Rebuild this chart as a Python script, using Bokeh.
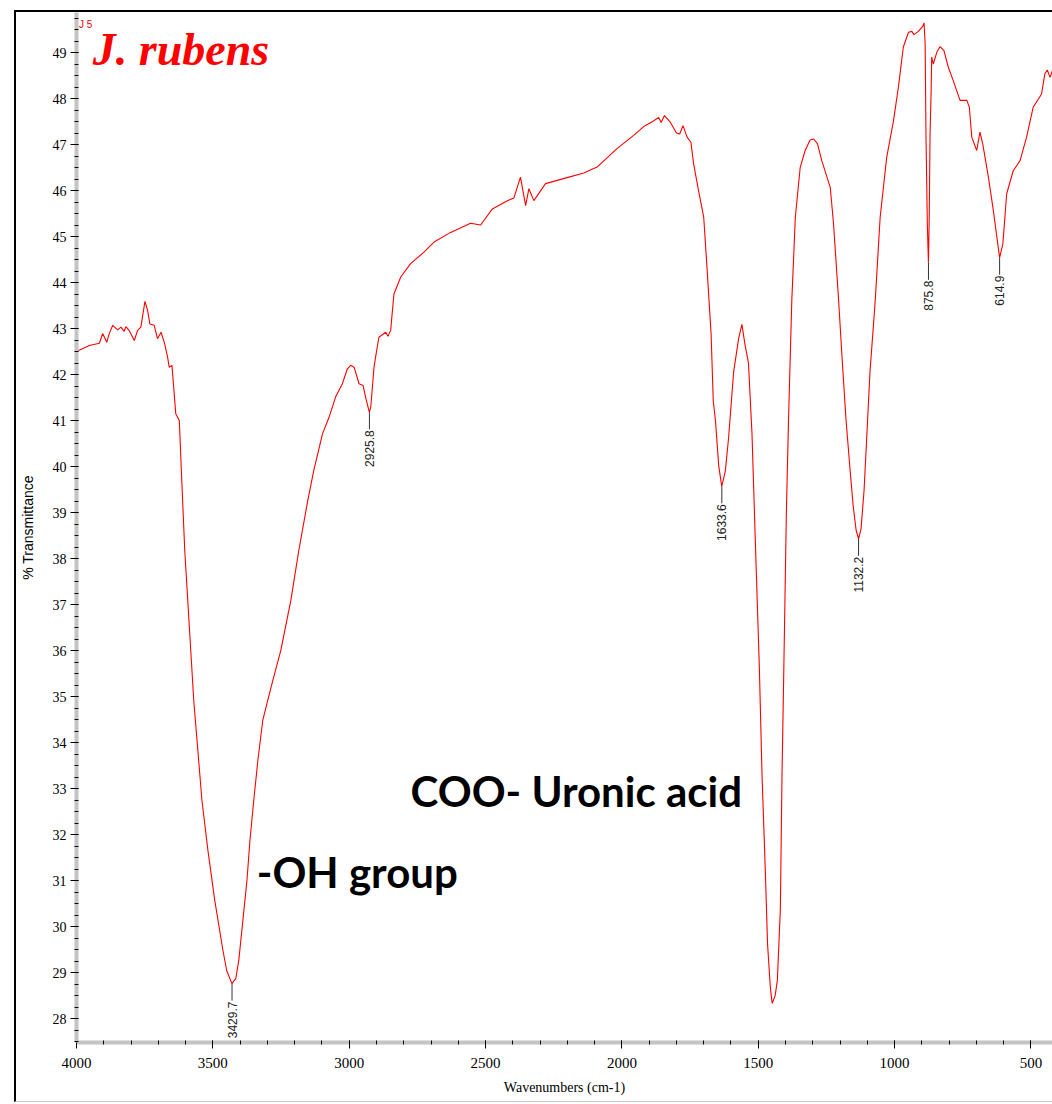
import math
from bokeh.plotting import figure
from bokeh.layouts import column
from bokeh.models import Range1d, SingleIntervalTicker, ColumnDataSource, Label
from bokeh.embed import file_html
from bokeh.resources import INLINE

# ---- data (wavenumber cm-1, % transmittance) ----
wavenumber = [4000, 3953, 3916, 3904, 3889, 3880, 3867, 3849, 3837, 3825, 3819, 3807,
              3788, 3776, 3764, 3749, 3739, 3731, 3715, 3703, 3690, 3678, 3666, 3660,
              3650, 3636, 3623, 3614, 3603, 3592, 3581, 3570, 3555, 3540, 3518, 3493,
              3463, 3449, 3430, 3416, 3405, 3390, 3375, 3364, 3350, 3335, 3317, 3299,
              3280, 3251, 3214, 3185, 3152, 3130, 3098, 3074, 3050, 3025, 3007, 2995,
              2982, 2964, 2949, 2940, 2926, 2921, 2909, 2903, 2891, 2866, 2858, 2848,
              2836, 2811, 2775, 2726, 2689, 2628, 2555, 2518, 2475, 2420, 2396, 2372,
              2353, 2341, 2323, 2280, 2201, 2140, 2091, 2018, 1957, 1920, 1884, 1865,
              1856, 1844, 1822, 1800, 1788, 1776, 1761, 1747, 1737, 1719, 1700, 1688,
              1673, 1665, 1657, 1645, 1634, 1621, 1609, 1590, 1572, 1560, 1548, 1536,
              1523, 1511, 1496, 1486, 1474, 1466, 1456, 1449, 1438, 1430, 1419, 1413,
              1407, 1397, 1389, 1377, 1364, 1346, 1328, 1310, 1297, 1283, 1267, 1248,
              1236, 1224, 1206, 1192, 1178, 1163, 1152, 1141, 1132, 1123, 1112, 1101,
              1090, 1079, 1071, 1053, 1029, 1004, 986, 968, 949, 937, 929, 913, 897,
              892, 888, 885, 880, 876, 873, 870, 866, 864, 858, 845, 833, 819, 803,
              785, 760, 735, 726, 717, 699, 687, 677, 656, 638, 615, 603, 589, 565,
              540, 516, 492, 461, 449, 440, 430, 421]
transmittance = [42.50, 42.63, 42.68, 42.89, 42.70, 42.89, 43.07, 42.97, 43.03, 42.94,
                 43.04, 42.96, 42.74, 42.96, 43.03, 43.59, 43.39, 43.10, 43.07, 42.78,
                 42.92, 42.70, 42.38, 42.16, 42.20, 41.15, 41.00, 39.70, 38.17, 37.09,
                 36.00, 34.91, 33.83, 32.74, 31.65, 30.57, 29.48, 29.04, 28.76, 28.87,
                 29.26, 30.13, 31.00, 31.87, 32.74, 33.61, 34.48, 34.91, 35.35, 36.00,
                 37.09, 38.17, 39.26, 39.91, 40.71, 41.07, 41.51, 41.80, 42.12, 42.20,
                 42.16, 41.80, 41.76, 41.51, 41.18, 41.29, 42.16, 42.39, 42.81, 42.92,
                 42.83, 42.96, 43.75, 44.12, 44.41, 44.66, 44.88, 45.09, 45.29, 45.25,
                 45.60, 45.78, 45.84, 46.29, 45.67, 46.04, 45.78, 46.15, 46.28, 46.38,
                 46.51, 46.91, 47.20, 47.39, 47.51, 47.59, 47.48, 47.63, 47.48, 47.25,
                 47.23, 47.41, 47.16, 47.05, 46.58, 46.00, 45.42, 44.33, 42.89, 41.43,
                 41.00, 40.02, 39.57, 39.89, 40.61, 42.07, 42.78, 43.09, 42.63, 42.26,
                 40.72, 38.43, 35.63, 33.26, 31.20, 29.63, 28.70, 28.33, 28.50, 28.83,
                 30.37, 33.26, 35.33, 38.96, 41.02, 43.61, 45.42, 46.51, 46.87, 47.10,
                 47.12, 47.02, 46.65, 46.29, 46.07, 45.28, 43.68, 42.30, 41.00, 39.91,
                 39.15, 38.61, 38.43, 38.65, 39.48, 40.78, 42.09, 42.96, 43.61, 45.42,
                 46.72, 47.52, 48.25, 49.12, 49.44, 49.46, 49.39, 49.46, 49.57, 49.64,
                 49.19, 47.23, 45.28, 44.43, 45.42, 47.23, 48.17, 48.90, 48.75, 49.01,
                 49.13, 49.04, 48.68, 48.39, 47.96, 47.96, 47.81, 47.16, 46.87, 47.27,
                 47.02, 46.29, 45.57, 44.54, 44.84, 45.93, 46.43, 46.65, 47.16, 47.81,
                 48.10, 48.54, 48.62, 48.46, 48.61]

peak_wn = [3429.7, 2925.8, 1633.6, 1132.2, 875.8, 614.9]
peak_T = [28.76, 41.18, 39.57, 38.43, 44.43, 44.54]
peak_text = ["3429.7", "2925.8", "1633.6", "1132.2", "875.8", "614.9"]

x_ticks_interval = 500
y_ticks_interval = 1

title_text = "J. rubens"
sample_tag = "J 5"
note_oh = "-OH group"
note_coo = "COO- Uronic acid"

# ---- figure ----
p = figure(width=1036, height=1089, output_backend="svg", toolbar_location=None,
           x_range=Range1d(4000, 421), y_range=Range1d(27.48, 49.87),
           min_border_left=59, min_border_right=0, min_border_top=0,
           min_border_bottom=59, background_fill_color="white",
           border_fill_color="white", outline_line_color=None)
p.grid.visible = False

tick_font = "Liberation Sans Narrow"
for ax in (p.xaxis[0], p.yaxis[0]):
    ax.axis_line_color = "#c4c4c4"
    ax.axis_line_width = 4
    ax.major_tick_line_color = "black"
    ax.minor_tick_line_color = "black"
    ax.major_tick_out = 6
    ax.major_tick_in = 2
    ax.minor_tick_out = 2
    ax.minor_tick_in = 2
    ax.major_label_text_font = tick_font
    ax.major_label_text_color = "black"
    ax.axis_label_text_font_style = "normal"
    ax.axis_label_text_color = "black"

p.xaxis.major_label_text_font_size = "15px"
p.yaxis.major_label_text_font_size = "14px"
p.xaxis.ticker = SingleIntervalTicker(interval=x_ticks_interval, num_minor_ticks=5)
p.yaxis.ticker = SingleIntervalTicker(interval=y_ticks_interval, num_minor_ticks=4)
p.xaxis.axis_label = "Wavenumbers (cm-1)"
p.xaxis.axis_label_text_font = tick_font
p.xaxis.axis_label_text_font_size = "14px"
p.xaxis.axis_label_standoff = 9
p.yaxis.axis_label = "% Transmittance"
p.yaxis.axis_label_text_font = "Liberation Sans"
p.yaxis.axis_label_text_font_size = "14px"
p.yaxis.axis_label_standoff = 14
p.xaxis.major_label_standoff = 9
p.yaxis.major_label_standoff = 4

# spectrum
p.line(wavenumber, transmittance, line_color="#ff0000", line_width=1.1)

# peak markers
drop = 0.37
src = ColumnDataSource(dict(x=peak_wn, y0=peak_T,
                            y1=[t - drop for t in peak_T],
                            yt=[t - drop - 0.02 for t in peak_T],
                            txt=peak_text))
p.segment(x0="x", y0="y0", x1="x", y1="y1", source=src, line_color="#333333",
          line_width=1)
p.text(x="x", y="yt", text="txt", source=src, angle=math.pi / 2,
       text_align="right", text_baseline="middle", text_font_size="12px",
       text_color="#222222", text_font={"value": "Liberation Sans"})

# titles / annotations
p.add_layout(Label(x=3940, y=49.06, text=title_text, text_color="#ff0000",
                   text_font="Liberation Serif", text_font_style="bold italic",
                   text_font_size="46px", text_baseline="alphabetic"))
p.add_layout(Label(x=3991, y=49.62, text=sample_tag, text_color="#ff0000",
                   text_font="Liberation Sans", text_font_size="10px",
                   text_baseline="alphabetic"))
p.add_layout(Label(x=3339, y=31.19, text=note_oh, text_color="black",
                   text_font="Lato", text_font_style="bold", text_font_size="42px",
                   text_baseline="alphabetic"))
p.add_layout(Label(x=2775, y=32.95, text=note_coo, text_color="black",
                   text_font="Lato", text_font_style="bold", text_font_size="42px",
                   text_baseline="alphabetic"))

# window frame around the chart (black top/left edge as in the original screenshot)
layout = column(p, margin=(10, 0, 0, 14),
                styles={"border-top": "2px solid black",
                        "border-left": "2px solid black",
                        "border-bottom": "1px solid #c8c8c8",
                        "background-color": "white"})

open("out.html", "w").write(file_html(layout, INLINE))
